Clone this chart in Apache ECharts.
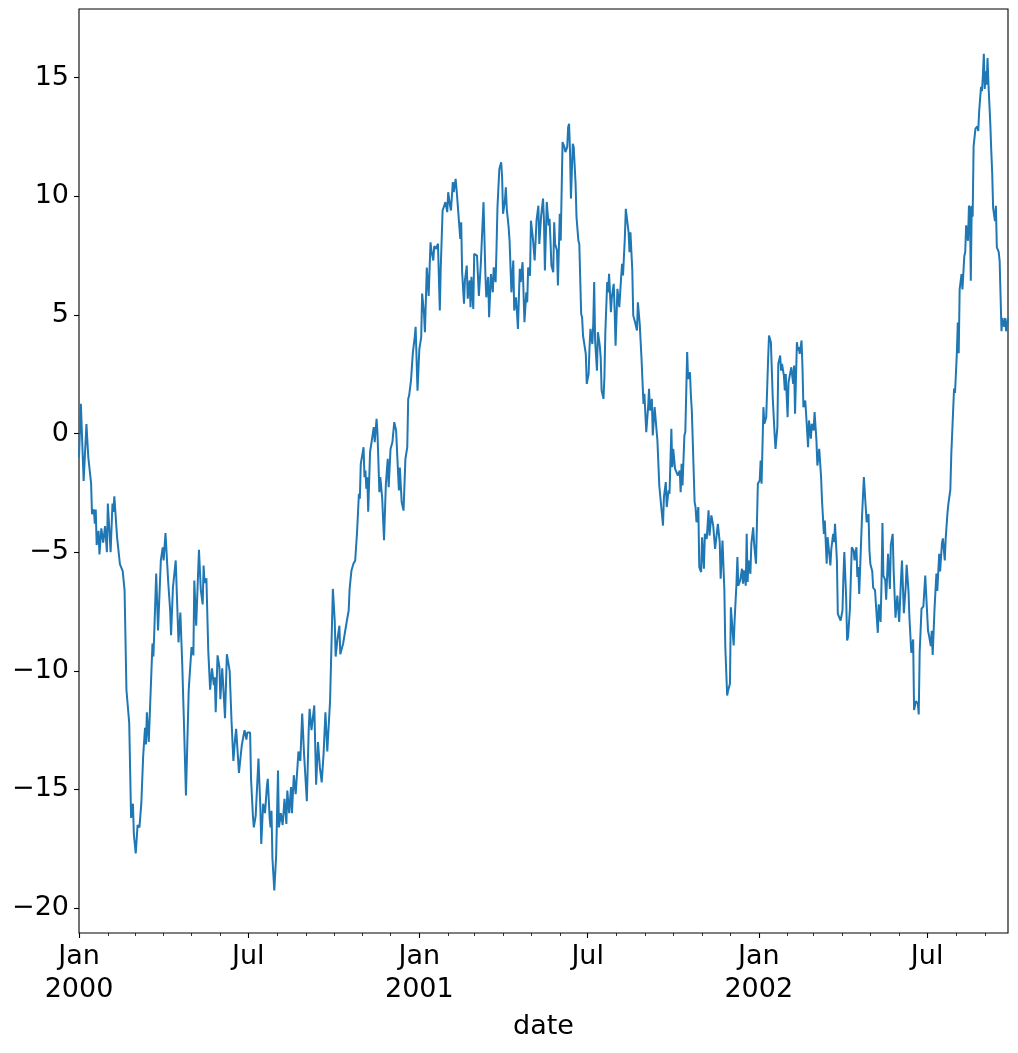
<!DOCTYPE html>
<html>
<head>
<meta charset="utf-8">
<script src="https://cdn.jsdelivr.net/npm/echarts@6/dist/echarts.min.js"></script>
<style>
  html, body { margin: 0; padding: 0; background: #fff; }
  #chart { width: 1018px; height: 1053px; }
</style>
</head>
<body>
<div id="chart"></div>
<script>
// [day offset from 2000-01-01, value]
const points2000 = [
  [0,-1.0],[2,1.25],[5,-2.0],[8,0.4],[10,-1.0],[13,-2.1],[14,-3.4],[16,-3.2],[17,-3.8],[18,-3.2],
  [19,-4.7],[21,-4.1],[22,-5.1],[24,-4.0],[26,-4.6],[28,-3.9],[30,-5.0],[31,-2.95],[34,-5.0],[36,-2.95],
  [37,-3.3],[38,-2.65],[41,-4.4],[44,-5.5],[47,-5.8],[49,-6.6],[51,-10.8],[54,-12.2],[56,-16.2],[58,-15.6],
  [59,-16.9],[61,-17.7],[63,-16.5],[65,-16.6],[67,-15.6],[69,-13.6],[71,-12.4],[72,-13.1],[73,-11.75],[75,-13.0],
  [79,-8.85],[80,-9.4],[81,-8.3],[83,-5.9],[85,-8.3],[88,-5.35],[89,-5.4],[90,-4.8],[91,-5.35],[93,-4.2],
  [96,-6.3],[98,-7.45],[99,-8.5],[101,-6.5],[102,-6.5],[104,-5.35],[107,-8.8],[109,-7.55],[111,-9.7],[113,-12.4],
  [115,-15.25],[118,-10.8],[121,-9.0],[123,-9.35],[124,-6.2],[126,-8.1],[129,-4.9],[131,-6.6],[133,-7.2],[134,-5.56],
  [135,-6.3],[137,-6.1],[139,-9.15],[141,-10.8],[143,-9.9],[145,-10.6],[146,-10.27],[147,-11.75],[149,-9.35],[151,-9.85],
  [152,-11.2],[154,-9.9],[155,-10.55],[157,-12.0],[159,-9.3],[162,-10.0],[164,-12.1],[166,-13.8],[168,-12.8],[169,-12.45],
  [172,-14.3],[175,-13.15],[178,-12.5],[180,-12.9],[181,-12.6],[184,-12.6],[185,-14.55],[187,-16.1],[188,-16.6],[190,-16.1],
  [193,-13.7],[195,-15.75],[196,-17.3],[198,-15.6],[200,-16.0],[202,-14.9],[203,-14.55],[205,-16.2],[206,-16.6],[207,-15.9],
  [208,-17.9],[210,-19.26],[212,-17.8],[214,-14.2],[215,-16.6],[217,-16.0],[219,-16.5],[221,-15.4],[223,-16.45],[224,-15.05],
  [226,-16.0],[228,-14.9],[229,-16.0],[231,-14.4],[233,-15.2],[236,-13.4],[238,-13.8],[240,-11.8],[242,-13.5],[245,-15.5],
  [247,-12.5],[248,-11.6],[250,-12.5],[253,-11.46],[255,-14.8],[257,-13.0],[259,-14.06],[261,-14.7],[263,-13.5],[265,-11.75],
  [267,-13.4],[270,-11.25],[273,-6.55],[275,-7.9],[276,-9.4],[278,-8.65],[280,-8.1],[281,-9.3],[284,-8.86],[286,-8.86],
  [288,-7.9],[290,-7.46],[291,-6.55],[293,-5.77],[295,-5.5],[297,-5.35],[299,-4.16],[301,-2.54],[302,-2.75],[303,-1.28],
  [304,-1.2],[306,-0.58],[307,-1.84],[308,-1.56],[309,-2.33],[310,-1.84],[311,-3.3],[313,-0.78],[315,-0.72],[317,0.27],
  [318,-0.37],[320,0.62],[321,0.0],[323,-2.47],[324,-1.84],[326,-2.7],[328,-4.5],[330,-2.12],[332,-1.07],[333,-2.26],
  [335,-0.65],[337,-0.37],[339,0.48],[341,0.13],[342,-0.72],[344,-2.4],[345,-1.43],[347,-2.9],[349,-3.25],[351,-1.07],
  [353,-0.58],[354,1.46],[355,1.6],[357,2.23],[359,3.4],[361,4.06],[362,4.5],[364,1.8]
]
const points2001 = [
  [366,3.56],[368,4.06],[369,5.9],[371,5.04],[372,4.27],[374,6.99],[376,5.8],[378,8.06],[379,7.7],[381,7.29],
  [382,7.9],[384,7.78],[386,8.0],[388,5.18],[389,7.0],[391,9.4],[393,9.47],[394,9.75],[396,9.33],[397,10.17],
  [399,9.6],[400,9.4],[402,10.6],[403,10.17],[405,10.73],[406,10.3],[408,10.3],[410,8.2],[411,8.9],[412,6.8],
  [414,5.47],[415,6.45],[417,7.08],[418,5.68],[420,6.45],[421,5.32],[422,6.6],[424,5.25],[425,7.57],[428,7.5],
  [430,5.8],[432,7.08],[433,7.15],[435,9.75],[437,6.72],[438,5.74],[440,6.6],[441,4.9],[443,6.72],[445,5.95],
  [446,7.0],[448,6.38],[449,7.85],[450,9.54],[452,11.15],[454,11.43],[455,10.8],[456,9.26],[458,9.82],[459,10.38],
  [460,9.47],[462,8.7],[463,8.13],[465,5.95],[467,7.29],[468,5.18],[470,5.74],[472,4.41],[474,6.94],[475,6.38],
  [477,7.22],[479,4.69],[481,5.95],[482,5.53],[483,7.0],[485,6.65],[486,8.97],[488,8.27],[490,7.29],[492,8.98],
  [494,9.6],[495,7.99],[497,9.19],[499,9.9],[500,8.98],[501,6.87],[503,9.76],[505,8.76],[506,9.05],[507,8.13],
  [508,7.08],[510,6.8],[511,8.9],[512,7.99],[514,7.71],[515,6.24],[517,9.26],[518,8.13],[520,12.28],[522,12.07],
  [523,11.86],[525,12.07],[526,12.91],[527,13.05],[528,11.93],[529,9.9],[531,12.21],[532,12.07],[534,10.52],[535,9.12],
  [537,8.13],[538,7.99],[540,5.04],[541,4.9],[542,4.13],[544,4.06],[545,3.35],[546,2.09],[548,2.51],[549,3.63],
  [550,4.41],[552,3.77],[553,4.62],[554,6.38],[555,3.91],[557,2.65],[558,4.27],[560,3.7],[561,3.21],[562,1.81],
  [564,1.46],[565,2.37],[566,4.27],[567,4.34],[568,6.38],[569,5.95],[570,6.73],[572,5.11],[573,5.74],[575,6.31],
  [576,5.18],[577,3.7],[579,6.1],[581,5.32],[583,6.59],[584,7.15],[585,6.66],[587,8.27],[588,9.47],[590,9.4],
  [591,8.48],[592,7.64],[593,8.48],[595,6.87],[596,4.97],[598,4.69],[600,4.34],[601,5.53],[603,4.6],[605,3.08],
  [607,1.25],[608,1.67],[610,0.06],[612,1.11],[613,1.88],[614,0.97],[616,1.46],[617,-0.08],[619,1.11],[620,1.04],
  [622,-0.3],[624,-2.19],[626,-2.26],[628,-3.88],[629,-2.68],[631,-2.05],[632,-3.1],[634,-2.4],[635,-2.54],[637,0.2],
  [638,-1.42],[639,-0.65],[641,-1.49],[643,-1.42],[644,-1.77],[646,-1.56],[647,-2.47],[648,-1.28],[649,-2.19],[651,-0.08],
  [652,0.06],[654,3.43],[655,2.3],[657,2.58],[658,1.6],[659,0.97],[662,-2.89],[663,-3.1],[664,-3.74],[666,-3.1],
  [667,-5.63],[669,-5.84],[670,-4.37],[672,-5.7],[673,-4.23],[675,-4.44],[677,-3.24],[678,-4.3],[680,-3.45],[682,-3.88],
  [684,-4.86],[685,-4.86],[687,-3.81],[689,-4.58],[690,-6.12],[692,-4.51],[694,-6.62],[695,-9.0],[697,-11.04],[698,-10.83],
  [700,-10.55],[701,-7.32],[703,-7.32],[704,-8.93],[705,-7.88],[707,-6.33],[708,-5.21],[709,-6.41],[711,-6.19],[713,-5.7],
  [714,-6.33],[715,-5.77],[717,-6.41],[718,-4.23],[719,-6.26],[720,-5.35],[722,-5.91],[723,-4.65],[725,-3.95],[726,-4.65],
  [728,-5.49],[730,-2.12]
]
const points2002 = [
  [732,-1.98],[733,-1.14],[734,-2.12],[736,1.11],[737,0.41],[739,0.69],[741,3.08],[742,4.13],[744,3.85],[745,3.92],
  [746,1.53],[748,-0.01],[749,-0.65],[751,0.27],[752,2.93],[754,3.29],[755,2.65],[756,2.93],[758,2.44],[759,1.81],
  [760,2.51],[762,0.69],[763,2.16],[765,2.58],[766,2.79],[768,2.09],[769,2.86],[770,0.83],[772,3.85],[773,3.5],
  [774,3.64],[775,3.36],[777,3.92],[778,2.79],[779,1.11],[781,1.39],[782,0.76],[784,-0.58],[785,0.55],[787,-0.22],
  [788,0.41],[790,0.13],[791,0.9],[793,-0.29],[794,-1.35],[796,-0.65],[798,-1.84],[799,-2.82],[801,-4.23],[802,-3.67],
  [804,-5.49],[805,-4.37],[806,-4.3],[808,-5.56],[809,-4.86],[811,-4.23],[812,-4.58],[813,-3.81],[815,-5.35],[816,-7.6],
  [818,-7.53],[819,-7.88],[821,-7.46],[822,-6.05],[823,-5.0],[825,-6.97],[826,-8.72],[827,-8.58],[829,-7.39],[830,-7.46],
  [831,-4.79],[833,-4.93],[834,-5.35],[836,-4.79],[837,-6.05],[838,-5.63],[839,-6.76],[841,-4.58],[842,-3.53],[844,-1.84],
  [845,-2.47],[846,-2.54],[847,-3.74],[849,-3.39],[850,-4.93],[851,-5.5],[853,-5.8],[854,-6.5],[856,-6.6],[858,-6.64],
  [859,-8.4],[860,-7.2],[862,-7.94],[863,-6.27],[864,-3.77],[865,-5.99],[867,-6.18],[868,-7.0],[870,-5.07],[872,-6.55],
  [873,-4.7],[875,-4.23],[876,-5.72],[878,-7.76],[880,-6.83],[882,-7.94],[884,-6.09],[885,-5.35],[887,-7.57],[889,-6.46],
  [890,-5.53],[892,-6.64],[893,-7.76],[895,-9.24],[897,-8.68],[898,-11.65],[900,-11.28],[902,-11.37],[903,-11.84],[904,-9.24],
  [906,-7.38],[908,-7.29],[910,-5.99],[911,-5.99],[913,-8.31],[914,-8.5],[916,-8.96],[917,-8.31],[918,-9.33],[920,-7.38],
  [922,-5.9],[923,-6.64],[925,-5.07],[926,-5.81],[928,-4.61],[929,-4.42],[931,-5.35],[932,-4.42],[934,-3.3],[935,-2.93],
  [937,-2.37],[938,-0.89],[939,0.04],[941,1.9],[942,1.71],[944,3.38],[945,4.68],[946,3.38],[947,6.07],[949,6.72],
  [950,6.07],[952,7.47],[953,7.65],[954,8.77],[956,8.12],[957,9.6],[958,9.51],[959,6.44],[960,9.6],[961,9.14],
  [962,12.1],[964,12.85],[966,12.94],[967,12.75],[968,13.59],[970,14.61],[971,14.43],[972,15.07],[973,16.0],[974,14.52],
  [975,15.26],[976,14.7],[977,15.82],[978,14.7],[980,13.03],[981,11.92],[982,10.99],[983,9.51],[985,8.95],[986,9.6],
  [987,7.84],[989,7.65],[990,7.28],[992,4.31],[993,4.87],[995,4.5],[996,4.87],[997,4.31],[999,4.87]
]

const yTicks = [-20, -15, -10, -5, 0, 5, 10, 15]
const xTickMonths = [0, 6, 12, 18, 24, 30]
const xTickLabels = ['Jan\n2000', 'Jul', 'Jan\n2001', 'Jul', 'Jan\n2002', 'Jul']

const DAY = 86400000
const start = Date.UTC(2000, 0, 1)
const end = start + 999 * DAY

const seriesData = [...points2000, ...points2001, ...points2002].map(([d, v]) => [start + d * DAY, v])

const majorTicks = xTickMonths.map(m => Date.UTC(2000, m, 1))
const minorTicks = []
for (let m = 0; m <= 32; m++) {
    if (!xTickMonths.includes(m)) minorTicks.push(Date.UTC(2000, m, 1))
}

const font = 'DejaVu Sans'
const chart = echarts.init(document.querySelector('#chart'))

const option = {
    animation: false,
    grid: {
        left: 79, top: 9, right: 10, bottom: 120,
        show: true, borderColor: '#000', borderWidth: 1.1, backgroundColor: '#fff'
    },
    xAxis: [
        {
            type: 'value',
            min: start,
            max: end,
            axisLine: { show: false, onZero: false },
            splitLine: { show: false },
            axisTick: {
                show: true, length: 5, customValues: majorTicks,
                lineStyle: { color: '#000', width: 1.1 }
            },
            axisLabel: {
                show: true,
                customValues: majorTicks,
                formatter: val => xTickLabels[majorTicks.indexOf(val)] || '',
                color: '#000', fontSize: 27, lineHeight: 33, fontFamily: font, margin: 7
            },
            name: 'date',
            nameLocation: 'middle',
            nameGap: 80,
            nameTextStyle: { color: '#000', fontSize: 27, fontFamily: font }
        },
        {
            type: 'value',
            min: start,
            max: end,
            position: 'bottom',
            axisLine: { show: false, onZero: false },
            splitLine: { show: false },
            axisLabel: { show: false },
            axisTick: {
                show: true, length: 3, customValues: minorTicks,
                lineStyle: { color: '#000', width: 0.8 }
            }
        }
    ],
    yAxis: {
        type: 'value',
        min: -21.05,
        max: 17.89,
        axisLine: { show: false, onZero: false },
        splitLine: { show: false },
        axisTick: {
            show: true, length: 5, customValues: yTicks,
            lineStyle: { color: '#000', width: 1.1 }
        },
        axisLabel: {
            show: true,
            customValues: yTicks,
            formatter: val => String(val).replace('-', '\u2212'),
            color: '#000', fontSize: 27, fontFamily: font, margin: 10
        }
    },
    series: [
        {
            type: 'line',
            xAxisIndex: 0,
            data: seriesData,
            showSymbol: false,
            lineStyle: { color: '#1f77b4', width: 2 },
            emphasis: { disabled: true }
        }
    ]
}

chart.setOption(option)
</script>
</body>
</html>
